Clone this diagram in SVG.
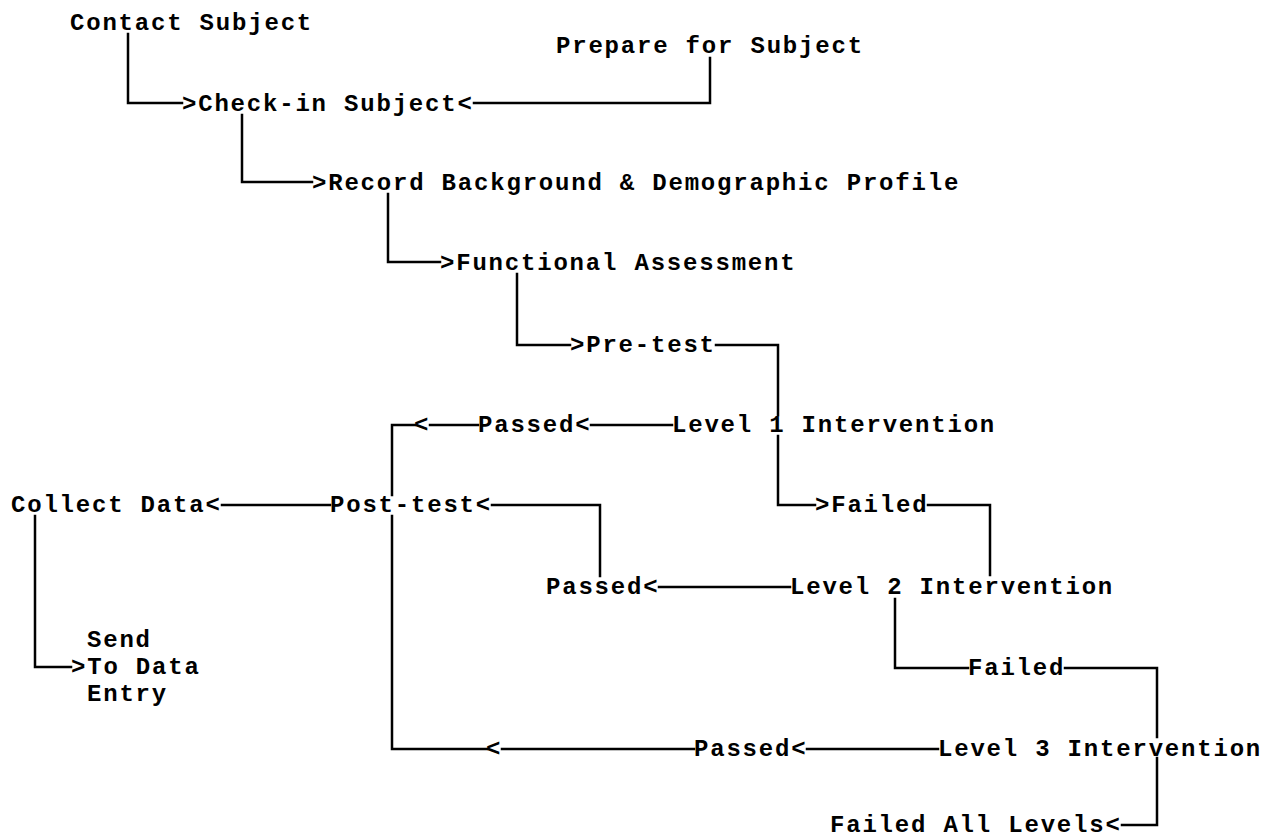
<svg xmlns="http://www.w3.org/2000/svg" width="1263" height="839" viewBox="0 0 1263 839">
<style>
text{font-family:"Liberation Mono","DejaVu Sans Mono",monospace;font-weight:bold;font-size:24px;letter-spacing:1.8px;fill:#000}
.c{fill:none;stroke:#000;stroke-width:2.5;stroke-linecap:square;stroke-linejoin:miter}
</style>
<rect width="1263" height="839" fill="#fff"/>
<g id="contact"><text x="70" y="30">Contact Subject</text></g>
<g id="prepare"><text x="556" y="53">Prepare for Subject</text></g>
<g id="checkin"><text x="182" y="111">&gt;Check-in Subject&lt;</text></g>
<g id="record"><text x="312" y="190">&gt;Record Background &amp; Demographic Profile</text></g>
<g id="functional"><text x="440" y="270">&gt;Functional Assessment</text></g>
<g id="pretest"><text x="570" y="352">&gt;Pre-test</text></g>
<g id="level1"><text x="672" y="432">Level 1 Intervention</text></g>
<g id="passed1"><text x="478" y="432">Passed&lt;</text></g>
<g id="arrow1"><text x="414" y="432">&lt;</text></g>
<g id="collect"><text x="11" y="512">Collect Data&lt;</text></g>
<g id="posttest"><text x="330" y="512">Post-test&lt;</text></g>
<g id="failed1"><text x="815" y="512">&gt;Failed</text></g>
<g id="passed2"><text x="546" y="594">Passed&lt;</text></g>
<g id="level2"><text x="790" y="594">Level 2 Intervention</text></g>
<g id="send"><text x="87" y="647">Send</text><text x="71" y="674">&gt;To Data</text><text x="87" y="701">Entry</text></g>
<g id="failed2"><text x="968" y="675">Failed</text></g>
<g id="arrow3"><text x="486" y="756">&lt;</text></g>
<g id="passed3"><text x="694" y="756">Passed&lt;</text></g>
<g id="level3"><text x="938" y="756">Level 3 Intervention</text></g>
<g id="failedall"><text x="830" y="832">Failed All Levels&lt;</text></g>
<g id="connectors">
<path class="c" d="M128 34V103H182"/>
<path class="c" d="M474 103H710V58"/>
<path class="c" d="M242 115V182H312"/>
<path class="c" d="M388 194V262H440"/>
<path class="c" d="M517 274V345H570"/>
<path class="c" d="M716 345H778V415"/>
<path class="c" d="M778 436V505H815"/>
<path class="c" d="M672 425H591"/>
<path class="c" d="M478 425H430"/>
<path class="c" d="M415 425H392V495"/>
<path class="c" d="M392 516V749H487"/>
<path class="c" d="M330 505H222"/>
<path class="c" d="M492 505H600V576"/>
<path class="c" d="M928 505H990V575"/>
<path class="c" d="M790 587H659"/>
<path class="c" d="M35 516V667H71"/>
<path class="c" d="M895 599V668H968"/>
<path class="c" d="M1065 668H1157V737"/>
<path class="c" d="M1157 758V825H1122"/>
<path class="c" d="M938 749H807"/>
<path class="c" d="M694 749H502"/>
</g>
</svg>
